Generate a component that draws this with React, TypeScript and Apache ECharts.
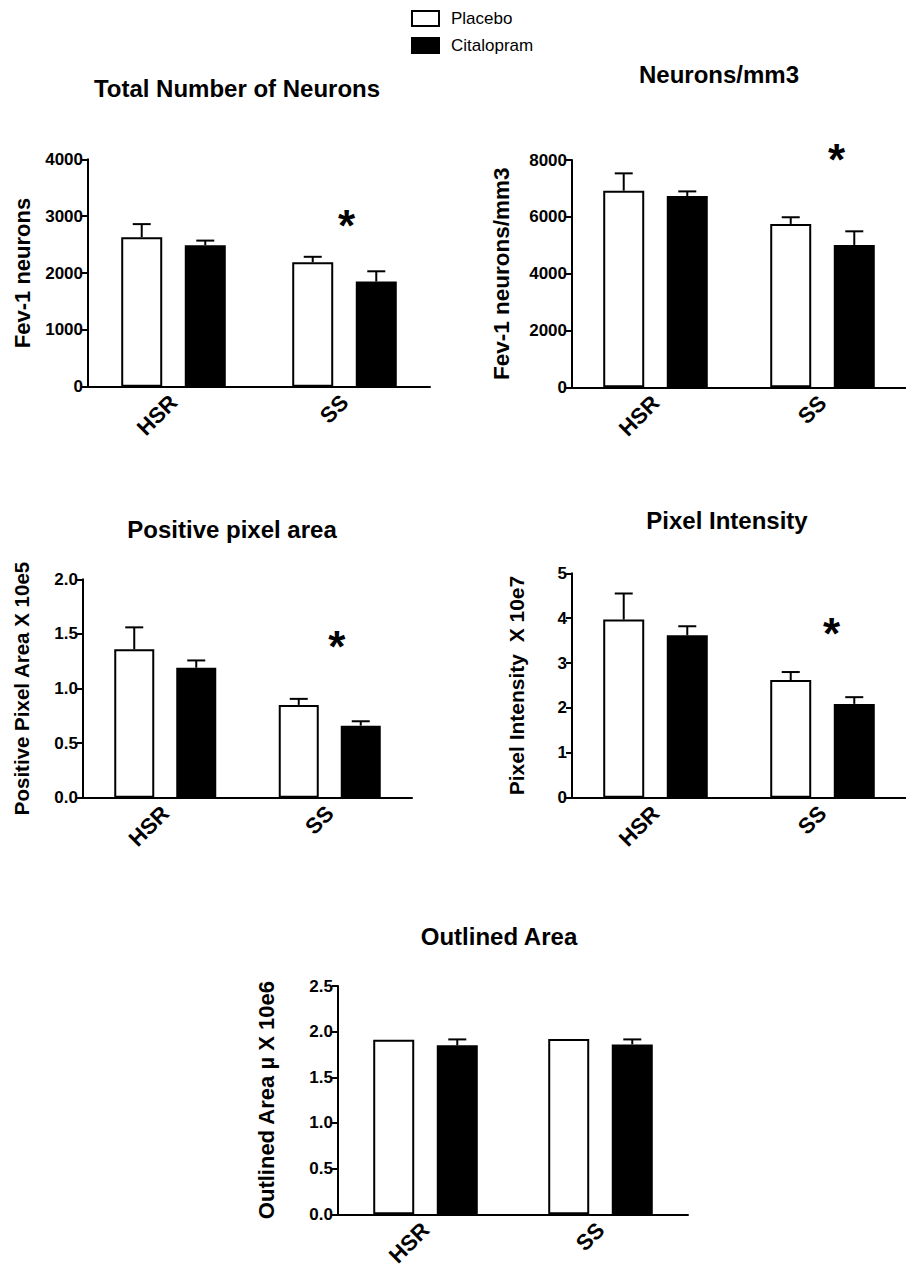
import React, { useEffect, useRef } from "react";
import * as echarts from "echarts";

const categories = ["HSR", "SS"];
const seriesNames = ["Placebo", "Citalopram"];

const titles = ["Total Number of Neurons", "Neurons/mm3", "Positive pixel area", "Pixel Intensity", "Outlined Area"];
const yNames = ["Fev-1 neurons", "Fev-1 neurons/mm3", "Positive Pixel Area X 10e5", "Pixel Intensity  X 10e7", "Outlined Area \u00b5 X 10e6"];

// panel 1: Total Number of Neurons
const placebo1 = [2630, 2190];
const placeboErr1 = [230, 95];
const cital1 = [2490, 1850];
const citalErr1 = [80, 180];
const star1 = 2930; // SS

// panel 2: Neurons/mm3
const placebo2 = [6920, 5750];
const placeboErr2 = [610, 235];
const cital2 = [6730, 5010];
const citalErr2 = [165, 480];
const star2 = 8210;

// panel 3: Positive pixel area
const placebo3 = [1.36, 0.85];
const placeboErr3 = [0.2, 0.055];
const cital3 = [1.19, 0.66];
const citalErr3 = [0.067, 0.04];
const star3 = 1.43;

// panel 4: Pixel Intensity
const placebo4 = [3.97, 2.62];
const placeboErr4 = [0.58, 0.18];
const cital4 = [3.62, 2.09];
const citalErr4 = [0.2, 0.15];
const star4 = 3.78;

// panel 5: Outlined Area
const placebo5 = [1.91, 1.92];
const placeboErr5 = [0, 0];
const cital5 = [1.85, 1.86];
const citalErr5 = [0.065, 0.055];

// y axis ticks
const yMax = [4000, 8000, 2, 5, 2.5];
const yStep = [1000, 2000, 0.5, 1, 0.5];
const yDecimals = [0, 0, 1, 0, 1];

const FONT = "'Liberation Sans', Arial, Helvetica, sans-serif";

const panels = [
  { placebo: placebo1, pErr: placeboErr1, cital: cital1, cErr: citalErr1, star: star1 },
  { placebo: placebo2, pErr: placeboErr2, cital: cital2, cErr: citalErr2, star: star2 },
  { placebo: placebo3, pErr: placeboErr3, cital: cital3, cErr: citalErr3, star: star3 },
  { placebo: placebo4, pErr: placeboErr4, cital: cital4, cErr: citalErr4, star: star4 },
  { placebo: placebo5, pErr: placeboErr5, cital: cital5, cErr: citalErr5, star: null as number | null },
];

// layout (style)
const grids = [
  { left: 88, top: 159.3, width: 342, height: 227.4 },
  { left: 572, top: 160, width: 342, height: 227.3 },
  { left: 83, top: 579.3, width: 329, height: 218.4 },
  { left: 572, top: 573.3, width: 338, height: 224.4 },
  { left: 338, top: 986, width: 350, height: 230 },
];
const titlePos = [
  { x: 237, y: 76 },
  { x: 719, y: 62 },
  { x: 232, y: 517 },
  { x: 727, y: 508 },
  { x: 499, y: 924 },
];
const nameGaps = [55, 59, 51, 45, 61];
const nameSizes = [22, 22.5, 20.5, 21, 22];
const barWidths = [41, 41, 40, 41, 41];
const barGap = 0.55;
const starDx = [2, 14, 7, 9, 0];

export default function App() {
  const ref = useRef<HTMLDivElement>(null);

  useEffect(() => {
    if (!ref.current) return;
    const chart = echarts.init(ref.current, undefined, { renderer: "svg" });

    const series: any[] = [];
    const xAxis: any[] = [];
    const yAxis: any[] = [];

    panels.forEach((p, i) => {
      const bw = barWidths[i];
      const half = (bw * (1 + barGap)) / 2;
      xAxis.push({
        type: "category",
        gridIndex: i,
        data: categories,
        axisLine: { lineStyle: { color: "#000", width: 2 } },
        axisTick: { alignWithLabel: true, length: 6, lineStyle: { color: "#000", width: 2 } },
        axisLabel: { rotate: 45, margin: 12, color: "#000", fontSize: 22, fontWeight: "bold", fontFamily: FONT },
      });
      yAxis.push({
        type: "value",
        gridIndex: i,
        min: 0,
        max: yMax[i],
        interval: yStep[i],
        splitLine: { show: false },
        axisLine: { show: true, lineStyle: { color: "#000", width: 2 } },
        axisTick: { show: true, length: 6, lineStyle: { color: "#000", width: 2 } },
        axisLabel: {
          margin: 5,
          color: "#000",
          fontSize: 17,
          fontWeight: "bold",
          fontFamily: FONT,
          formatter: (v: number) => v.toFixed(yDecimals[i]),
        },
        name: yNames[i],
        nameLocation: "middle",
        nameRotate: 90,
        nameGap: nameGaps[i],
        nameTextStyle: { color: "#000", fontSize: nameSizes[i], fontWeight: "bold", fontFamily: FONT },
      });
      series.push({
        type: "bar",
        name: seriesNames[0],
        xAxisIndex: i,
        yAxisIndex: i,
        data: p.placebo,
        barWidth: bw,
        barGap: barGap * 100 + "%",
        itemStyle: { color: "#fff", borderColor: "#000", borderWidth: 2 },
      });
      series.push({
        type: "bar",
        name: seriesNames[1],
        xAxisIndex: i,
        yAxisIndex: i,
        data: p.cital,
        barWidth: bw,
        barGap: barGap * 100 + "%",
        itemStyle: { color: "#000", borderColor: "#000", borderWidth: 2 },
      });
      const mkErr = (vals: number[], errs: number[], off: number) => ({
        type: "custom",
        name: "err",
        xAxisIndex: i,
        yAxisIndex: i,
        z: 5,
        clip: false,
        data: vals.map((v, k) => [k, v, errs[k]]),
        renderItem: (_params: any, api: any) => {
          const k = api.value(0);
          const m = api.value(1);
          const e = api.value(2);
          if (!e) return null;
          const base = api.coord([k, m]);
          const top = api.coord([k, m + e]);
          const cx = base[0] + off;
          return {
            type: "group",
            children: [
              { type: "line", shape: { x1: cx, y1: base[1], x2: cx, y2: top[1] }, style: { stroke: "#000", lineWidth: 2 } },
              { type: "line", shape: { x1: cx - 9, y1: top[1], x2: cx + 9, y2: top[1] }, style: { stroke: "#000", lineWidth: 2 } },
            ],
          };
        },
      });
      series.push(mkErr(p.placebo, p.pErr, -half));
      series.push(mkErr(p.cital, p.cErr, half));
      if (p.star !== null) {
        series.push({
          type: "custom",
          name: "star",
          xAxisIndex: i,
          yAxisIndex: i,
          clip: false,
          z: 6,
          data: [[1, p.star]],
          renderItem: (_params: any, api: any) => {
            const pt = api.coord([api.value(0), api.value(1)]);
            return {
              type: "text",
              x: pt[0] + starDx[i],
              y: pt[1] + 5,
              style: {
                text: "*",
                fontSize: 44,
                fontWeight: "bold",
                fontFamily: FONT,
                fill: "#000",
                align: "center",
                verticalAlign: "middle",
              },
            };
          },
        });
      }
    });

    chart.setOption({
      animation: false,
      backgroundColor: "#fff",
      title: titles.map((t, i) => ({
        text: t,
        left: titlePos[i].x,
        top: titlePos[i].y,
        textAlign: "center",
        padding: 0,
        textStyle: { color: "#000", fontSize: 24, fontWeight: "bold", fontFamily: FONT },
      })),
      legend: {
        orient: "vertical",
        left: 411,
        top: 10,
        padding: 0,
        itemWidth: 27,
        itemHeight: 15,
        itemGap: 10,
        selectedMode: false,
        textStyle: { color: "#000", fontSize: 17, fontFamily: FONT, padding: [0, 0, 0, 7] },
        data: [
          { name: seriesNames[0], icon: "rect", itemStyle: { color: "#fff", borderColor: "#000", borderWidth: 2 } },
          { name: seriesNames[1], icon: "rect", itemStyle: { color: "#000", borderColor: "#000", borderWidth: 2 } },
        ],
      },
      grid: grids,
      xAxis,
      yAxis,
      series,
    });

    return () => chart.dispose();
  }, []);

  return <div ref={ref} style={{ position: "absolute", left: 0, top: 0, width: 906, height: 1269 }} />;
}
